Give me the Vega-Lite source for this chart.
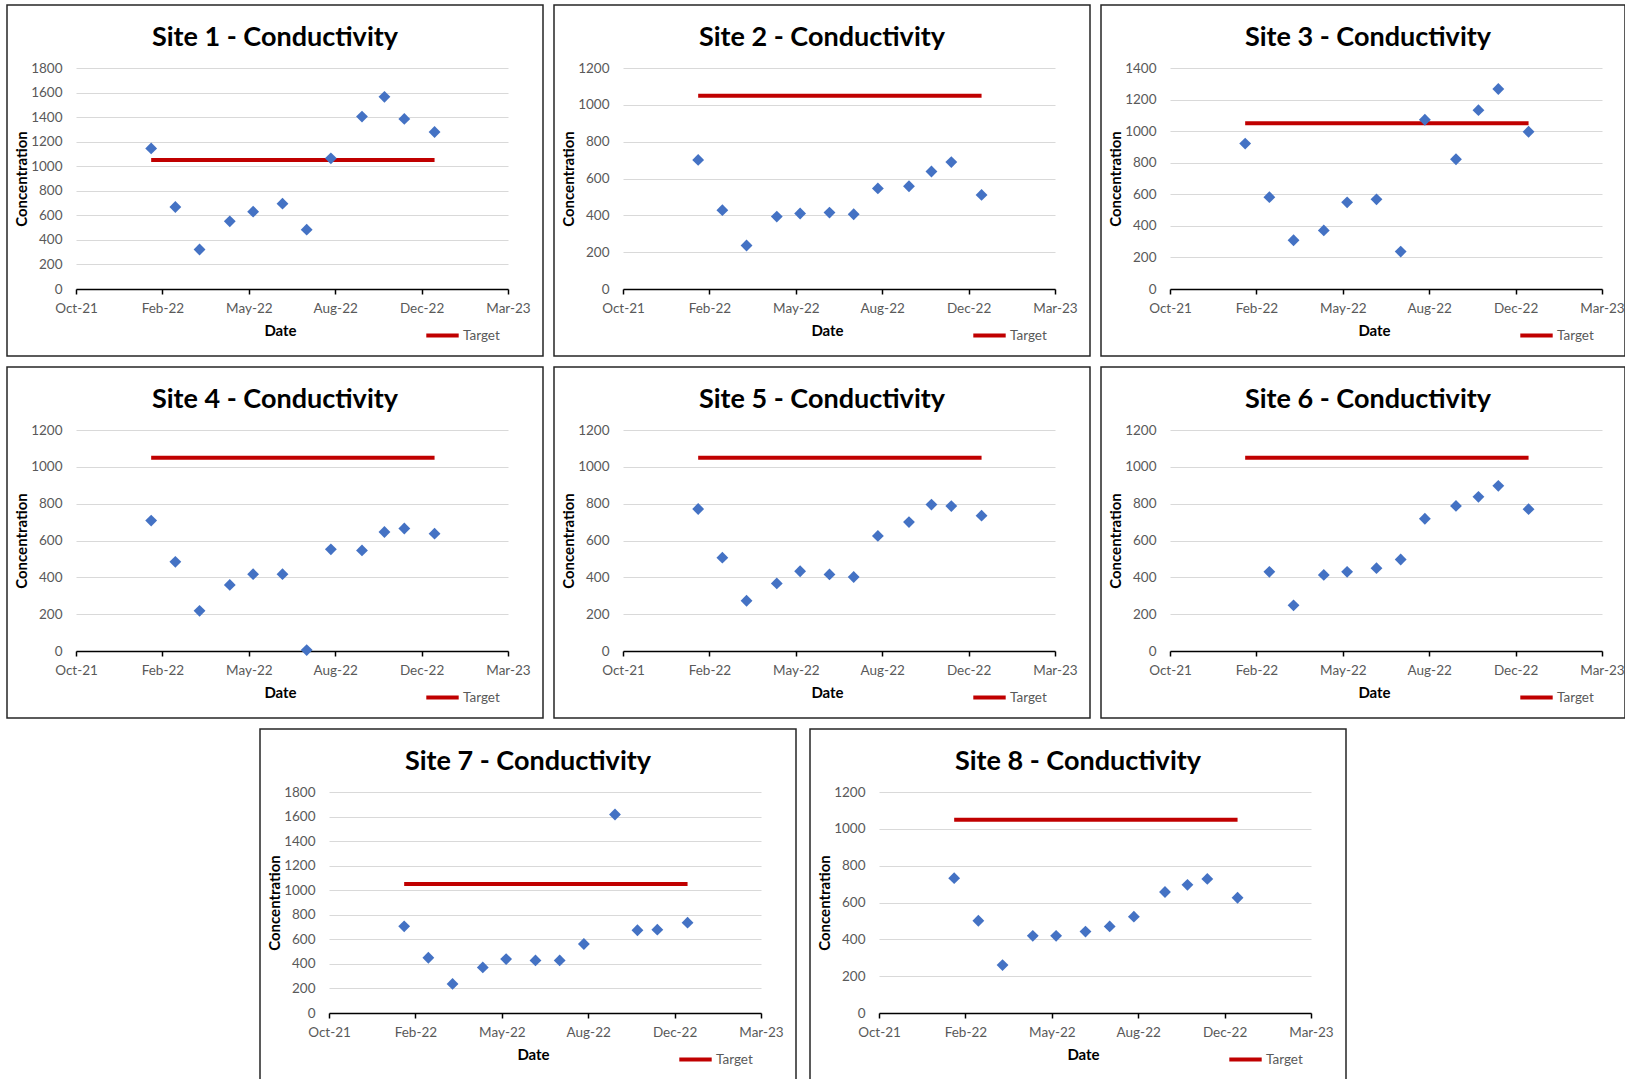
{
  "$schema": "https://vega.github.io/schema/vega-lite/v6.json",
  "background": "white",
  "padding": {"left": 6, "top": 4, "right": 0, "bottom": 0},
  "config": {
    "font": "Lato",
    "view": {"stroke": "#262626", "strokeWidth": 1.5},
    "title": {"font": "Lato", "fontSize": 27, "fontWeight": "bold", "color": "#000000", "anchor": "middle", "frame": "group", "offset": -47, "baseline": "alphabetic"},
    "axis": {"labelFont": "Lato", "titleFont": "Lato", "labelColor": "#595959", "labelFontSize": 13.5, "titleFontSize": 15, "titleFontWeight": "bold", "titleColor": "#000000"},
    "axisX": {"grid": false, "domainColor": "#000000", "domainWidth": 1.5, "tickColor": "#000000", "tickWidth": 1.5, "tickSize": 5, "labelPadding": 7, "titlePadding": 9, "titleX": 273, "labelFlush": false, "labelOverlap": false},
    "axisY": {"offset": 0, "domain": false, "ticks": false, "tickSize": 0, "grid": true, "gridColor": "#D9D9D9", "gridWidth": 1, "labelPadding": -55, "format": "d", "labelOverlap": false, "labelFlush": false, "titleX": 14, "titleBaseline": "middle", "titleAngle": 270},
    "legend": {"symbolType": "stroke", "symbolStrokeWidth": 4, "symbolSize": 1050, "labelFont": "Lato", "labelFontSize": 13.5, "labelColor": "#595959", "labelOffset": 2, "padding": 0}
  },
  "datasets": {
    "obs": [
      {"site": 1, "date": "2022-01-26", "value": 1145}, {"site": 1, "date": "2022-02-23", "value": 668}, {"site": 1, "date": "2022-03-23", "value": 322}, {"site": 1, "date": "2022-04-27", "value": 551}, {"site": 1, "date": "2022-05-24", "value": 630}, {"site": 1, "date": "2022-06-27", "value": 695}, {"site": 1, "date": "2022-07-25", "value": 483}, {"site": 1, "date": "2022-08-22", "value": 1064}, {"site": 1, "date": "2022-09-27", "value": 1404}, {"site": 1, "date": "2022-10-23", "value": 1565}, {"site": 1, "date": "2022-11-15", "value": 1385}, {"site": 1, "date": "2022-12-20", "value": 1279},
      {"site": 2, "date": "2022-01-26", "value": 701}, {"site": 2, "date": "2022-02-23", "value": 428}, {"site": 2, "date": "2022-03-23", "value": 236}, {"site": 2, "date": "2022-04-27", "value": 393}, {"site": 2, "date": "2022-05-24", "value": 410}, {"site": 2, "date": "2022-06-27", "value": 415}, {"site": 2, "date": "2022-07-25", "value": 406}, {"site": 2, "date": "2022-08-22", "value": 546}, {"site": 2, "date": "2022-09-27", "value": 558}, {"site": 2, "date": "2022-10-23", "value": 638}, {"site": 2, "date": "2022-11-15", "value": 689}, {"site": 2, "date": "2022-12-20", "value": 511},
      {"site": 3, "date": "2022-01-26", "value": 921}, {"site": 3, "date": "2022-02-23", "value": 582}, {"site": 3, "date": "2022-03-23", "value": 309}, {"site": 3, "date": "2022-04-27", "value": 371}, {"site": 3, "date": "2022-05-24", "value": 549}, {"site": 3, "date": "2022-06-27", "value": 568}, {"site": 3, "date": "2022-07-25", "value": 237}, {"site": 3, "date": "2022-08-22", "value": 1072}, {"site": 3, "date": "2022-09-27", "value": 822}, {"site": 3, "date": "2022-10-23", "value": 1133}, {"site": 3, "date": "2022-11-15", "value": 1267}, {"site": 3, "date": "2022-12-20", "value": 996},
      {"site": 4, "date": "2022-01-26", "value": 708}, {"site": 4, "date": "2022-02-23", "value": 484}, {"site": 4, "date": "2022-03-23", "value": 218}, {"site": 4, "date": "2022-04-27", "value": 359}, {"site": 4, "date": "2022-05-24", "value": 417}, {"site": 4, "date": "2022-06-27", "value": 417}, {"site": 4, "date": "2022-07-25", "value": 5}, {"site": 4, "date": "2022-08-22", "value": 552}, {"site": 4, "date": "2022-09-27", "value": 546}, {"site": 4, "date": "2022-10-23", "value": 646}, {"site": 4, "date": "2022-11-15", "value": 665}, {"site": 4, "date": "2022-12-20", "value": 637},
      {"site": 5, "date": "2022-01-26", "value": 771}, {"site": 5, "date": "2022-02-23", "value": 507}, {"site": 5, "date": "2022-03-23", "value": 273}, {"site": 5, "date": "2022-04-27", "value": 367}, {"site": 5, "date": "2022-05-24", "value": 433}, {"site": 5, "date": "2022-06-27", "value": 416}, {"site": 5, "date": "2022-07-25", "value": 402}, {"site": 5, "date": "2022-08-22", "value": 625}, {"site": 5, "date": "2022-09-27", "value": 700}, {"site": 5, "date": "2022-10-23", "value": 795}, {"site": 5, "date": "2022-11-15", "value": 787}, {"site": 5, "date": "2022-12-20", "value": 735},
      {"site": 6, "date": "2022-02-23", "value": 430}, {"site": 6, "date": "2022-03-23", "value": 248}, {"site": 6, "date": "2022-04-27", "value": 413}, {"site": 6, "date": "2022-05-24", "value": 430}, {"site": 6, "date": "2022-06-27", "value": 450}, {"site": 6, "date": "2022-07-25", "value": 497}, {"site": 6, "date": "2022-08-22", "value": 718}, {"site": 6, "date": "2022-09-27", "value": 788}, {"site": 6, "date": "2022-10-23", "value": 837}, {"site": 6, "date": "2022-11-15", "value": 897}, {"site": 6, "date": "2022-12-20", "value": 770},
      {"site": 7, "date": "2022-01-26", "value": 706}, {"site": 7, "date": "2022-02-23", "value": 450}, {"site": 7, "date": "2022-03-23", "value": 237}, {"site": 7, "date": "2022-04-27", "value": 371}, {"site": 7, "date": "2022-05-24", "value": 439}, {"site": 7, "date": "2022-06-27", "value": 428}, {"site": 7, "date": "2022-07-25", "value": 428}, {"site": 7, "date": "2022-08-22", "value": 562}, {"site": 7, "date": "2022-09-27", "value": 1617}, {"site": 7, "date": "2022-10-23", "value": 674}, {"site": 7, "date": "2022-11-15", "value": 679}, {"site": 7, "date": "2022-12-20", "value": 736},
      {"site": 8, "date": "2022-01-26", "value": 732}, {"site": 8, "date": "2022-02-23", "value": 501}, {"site": 8, "date": "2022-03-23", "value": 260}, {"site": 8, "date": "2022-04-27", "value": 419}, {"site": 8, "date": "2022-05-24", "value": 419}, {"site": 8, "date": "2022-06-27", "value": 442}, {"site": 8, "date": "2022-07-25", "value": 470}, {"site": 8, "date": "2022-08-22", "value": 523}, {"site": 8, "date": "2022-09-27", "value": 657}, {"site": 8, "date": "2022-10-23", "value": 696}, {"site": 8, "date": "2022-11-15", "value": 728}, {"site": 8, "date": "2022-12-20", "value": 626}
    ],
    "target": [
      {"site": 1, "start": "2022-01-26", "end": "2022-12-20", "target": 1050},
      {"site": 2, "start": "2022-01-26", "end": "2022-12-20", "target": 1050},
      {"site": 3, "start": "2022-01-26", "end": "2022-12-20", "target": 1050},
      {"site": 4, "start": "2022-01-26", "end": "2022-12-20", "target": 1050},
      {"site": 5, "start": "2022-01-26", "end": "2022-12-20", "target": 1050},
      {"site": 6, "start": "2022-01-26", "end": "2022-12-20", "target": 1050},
      {"site": 7, "start": "2022-01-26", "end": "2022-12-20", "target": 1050},
      {"site": 8, "start": "2022-01-26", "end": "2022-12-20", "target": 1050}
    ]
  },
  "spacing": 9,
  "resolve": {"scale": {"x": "independent", "y": "independent", "color": "independent"}, "axis": {"x": "independent", "y": "independent"}, "legend": {"color": "independent"}},
  "vconcat": [
    {
      "spacing": 9,
      "resolve": {"scale": {"x": "independent", "y": "independent", "color": "independent"}, "axis": {"x": "independent", "y": "independent"}, "legend": {"color": "independent"}},
      "hconcat": [
        {
          "width": 536, "height": 351,
          "title": {"text": "Site 1 - Conductivity"},
          "layer": [
            {"data": {"name": "target"}, "transform": [{"filter": "datum.site == 1"}],
             "mark": {"type": "rule", "strokeWidth": 4},
             "encoding": {
               "x": {"field": "start", "type": "temporal", "title": "Date", "scale": {"type": "utc", "domain": [{"year": 2021, "month": 10, "date": 31, "utc": true}, {"year": 2023, "month": 3, "date": 15, "utc": true}], "range": [69, 501], "nice": false}, "axis": {"offset": -67, "format": "%b-%y", "values": [{"year": 2021, "month": 10, "date": 31, "utc": true}, {"year": 2022, "month": 2, "date": 8, "utc": true}, {"year": 2022, "month": 5, "date": 19, "utc": true}, {"year": 2022, "month": 8, "date": 27, "utc": true}, {"year": 2022, "month": 12, "date": 5, "utc": true}, {"year": 2023, "month": 3, "date": 15, "utc": true}]}},
               "x2": {"field": "end"},
               "y": {"field": "target", "type": "quantitative", "title": "Concentration", "scale": {"domain": [0, 1800], "range": [284, 63], "nice": false}, "axis": {"values": [0, 200, 400, 600, 800, 1000, 1200, 1400, 1600, 1800]}},
               "color": {"datum": "Target", "type": "nominal", "scale": {"range": ["#C00000"]}, "legend": {"title": null, "orient": "none", "legendX": 417, "legendY": 312}}
             }},
            {"data": {"name": "obs"}, "transform": [{"filter": "datum.site == 1"}],
             "mark": {"type": "point", "shape": "diamond", "filled": true, "size": 140, "color": "#4472C4", "opacity": 1},
             "encoding": {
               "x": {"field": "date", "type": "temporal", "title": "Date", "scale": {"type": "utc", "domain": [{"year": 2021, "month": 10, "date": 31, "utc": true}, {"year": 2023, "month": 3, "date": 15, "utc": true}], "range": [69, 501], "nice": false}},
               "y": {"field": "value", "type": "quantitative", "title": "Concentration", "scale": {"domain": [0, 1800], "range": [284, 63], "nice": false}, "axis": {"values": [0, 200, 400, 600, 800, 1000, 1200, 1400, 1600, 1800]}}
             }}
          ]
        },
        {
          "width": 536, "height": 351,
          "title": {"text": "Site 2 - Conductivity"},
          "layer": [
            {"data": {"name": "target"}, "transform": [{"filter": "datum.site == 2"}],
             "mark": {"type": "rule", "strokeWidth": 4},
             "encoding": {
               "x": {"field": "start", "type": "temporal", "title": "Date", "scale": {"type": "utc", "domain": [{"year": 2021, "month": 10, "date": 31, "utc": true}, {"year": 2023, "month": 3, "date": 15, "utc": true}], "range": [69, 501], "nice": false}, "axis": {"offset": -67, "format": "%b-%y", "values": [{"year": 2021, "month": 10, "date": 31, "utc": true}, {"year": 2022, "month": 2, "date": 8, "utc": true}, {"year": 2022, "month": 5, "date": 19, "utc": true}, {"year": 2022, "month": 8, "date": 27, "utc": true}, {"year": 2022, "month": 12, "date": 5, "utc": true}, {"year": 2023, "month": 3, "date": 15, "utc": true}]}},
               "x2": {"field": "end"},
               "y": {"field": "target", "type": "quantitative", "title": "Concentration", "scale": {"domain": [0, 1200], "range": [284, 63], "nice": false}, "axis": {"values": [0, 200, 400, 600, 800, 1000, 1200]}},
               "color": {"datum": "Target", "type": "nominal", "scale": {"range": ["#C00000"]}, "legend": {"title": null, "orient": "none", "legendX": 417, "legendY": 312}}
             }},
            {"data": {"name": "obs"}, "transform": [{"filter": "datum.site == 2"}],
             "mark": {"type": "point", "shape": "diamond", "filled": true, "size": 140, "color": "#4472C4", "opacity": 1},
             "encoding": {
               "x": {"field": "date", "type": "temporal", "title": "Date", "scale": {"type": "utc", "domain": [{"year": 2021, "month": 10, "date": 31, "utc": true}, {"year": 2023, "month": 3, "date": 15, "utc": true}], "range": [69, 501], "nice": false}},
               "y": {"field": "value", "type": "quantitative", "title": "Concentration", "scale": {"domain": [0, 1200], "range": [284, 63], "nice": false}, "axis": {"values": [0, 200, 400, 600, 800, 1000, 1200]}}
             }}
          ]
        },
        {
          "width": 524, "height": 351,
          "title": {"text": "Site 3 - Conductivity", "dx": 5},
          "layer": [
            {"data": {"name": "target"}, "transform": [{"filter": "datum.site == 3"}],
             "mark": {"type": "rule", "strokeWidth": 4},
             "encoding": {
               "x": {"field": "start", "type": "temporal", "title": "Date", "scale": {"type": "utc", "domain": [{"year": 2021, "month": 10, "date": 31, "utc": true}, {"year": 2023, "month": 3, "date": 15, "utc": true}], "range": [69, 501], "nice": false}, "axis": {"offset": -67, "format": "%b-%y", "values": [{"year": 2021, "month": 10, "date": 31, "utc": true}, {"year": 2022, "month": 2, "date": 8, "utc": true}, {"year": 2022, "month": 5, "date": 19, "utc": true}, {"year": 2022, "month": 8, "date": 27, "utc": true}, {"year": 2022, "month": 12, "date": 5, "utc": true}, {"year": 2023, "month": 3, "date": 15, "utc": true}]}},
               "x2": {"field": "end"},
               "y": {"field": "target", "type": "quantitative", "title": "Concentration", "scale": {"domain": [0, 1400], "range": [284, 63], "nice": false}, "axis": {"values": [0, 200, 400, 600, 800, 1000, 1200, 1400]}},
               "color": {"datum": "Target", "type": "nominal", "scale": {"range": ["#C00000"]}, "legend": {"title": null, "orient": "none", "legendX": 417, "legendY": 312}}
             }},
            {"data": {"name": "obs"}, "transform": [{"filter": "datum.site == 3"}],
             "mark": {"type": "point", "shape": "diamond", "filled": true, "size": 140, "color": "#4472C4", "opacity": 1},
             "encoding": {
               "x": {"field": "date", "type": "temporal", "title": "Date", "scale": {"type": "utc", "domain": [{"year": 2021, "month": 10, "date": 31, "utc": true}, {"year": 2023, "month": 3, "date": 15, "utc": true}], "range": [69, 501], "nice": false}},
               "y": {"field": "value", "type": "quantitative", "title": "Concentration", "scale": {"domain": [0, 1400], "range": [284, 63], "nice": false}, "axis": {"values": [0, 200, 400, 600, 800, 1000, 1200, 1400]}}
             }}
          ]
        }
      ]
    },
    {
      "spacing": 9,
      "resolve": {"scale": {"x": "independent", "y": "independent", "color": "independent"}, "axis": {"x": "independent", "y": "independent"}, "legend": {"color": "independent"}},
      "hconcat": [
        {
          "width": 536, "height": 351,
          "title": {"text": "Site 4 - Conductivity"},
          "layer": [
            {"data": {"name": "target"}, "transform": [{"filter": "datum.site == 4"}],
             "mark": {"type": "rule", "strokeWidth": 4},
             "encoding": {
               "x": {"field": "start", "type": "temporal", "title": "Date", "scale": {"type": "utc", "domain": [{"year": 2021, "month": 10, "date": 31, "utc": true}, {"year": 2023, "month": 3, "date": 15, "utc": true}], "range": [69, 501], "nice": false}, "axis": {"offset": -67, "format": "%b-%y", "values": [{"year": 2021, "month": 10, "date": 31, "utc": true}, {"year": 2022, "month": 2, "date": 8, "utc": true}, {"year": 2022, "month": 5, "date": 19, "utc": true}, {"year": 2022, "month": 8, "date": 27, "utc": true}, {"year": 2022, "month": 12, "date": 5, "utc": true}, {"year": 2023, "month": 3, "date": 15, "utc": true}]}},
               "x2": {"field": "end"},
               "y": {"field": "target", "type": "quantitative", "title": "Concentration", "scale": {"domain": [0, 1200], "range": [284, 63], "nice": false}, "axis": {"values": [0, 200, 400, 600, 800, 1000, 1200]}},
               "color": {"datum": "Target", "type": "nominal", "scale": {"range": ["#C00000"]}, "legend": {"title": null, "orient": "none", "legendX": 417, "legendY": 312}}
             }},
            {"data": {"name": "obs"}, "transform": [{"filter": "datum.site == 4"}],
             "mark": {"type": "point", "shape": "diamond", "filled": true, "size": 140, "color": "#4472C4", "opacity": 1},
             "encoding": {
               "x": {"field": "date", "type": "temporal", "title": "Date", "scale": {"type": "utc", "domain": [{"year": 2021, "month": 10, "date": 31, "utc": true}, {"year": 2023, "month": 3, "date": 15, "utc": true}], "range": [69, 501], "nice": false}},
               "y": {"field": "value", "type": "quantitative", "title": "Concentration", "scale": {"domain": [0, 1200], "range": [284, 63], "nice": false}, "axis": {"values": [0, 200, 400, 600, 800, 1000, 1200]}}
             }}
          ]
        },
        {
          "width": 536, "height": 351,
          "title": {"text": "Site 5 - Conductivity"},
          "layer": [
            {"data": {"name": "target"}, "transform": [{"filter": "datum.site == 5"}],
             "mark": {"type": "rule", "strokeWidth": 4},
             "encoding": {
               "x": {"field": "start", "type": "temporal", "title": "Date", "scale": {"type": "utc", "domain": [{"year": 2021, "month": 10, "date": 31, "utc": true}, {"year": 2023, "month": 3, "date": 15, "utc": true}], "range": [69, 501], "nice": false}, "axis": {"offset": -67, "format": "%b-%y", "values": [{"year": 2021, "month": 10, "date": 31, "utc": true}, {"year": 2022, "month": 2, "date": 8, "utc": true}, {"year": 2022, "month": 5, "date": 19, "utc": true}, {"year": 2022, "month": 8, "date": 27, "utc": true}, {"year": 2022, "month": 12, "date": 5, "utc": true}, {"year": 2023, "month": 3, "date": 15, "utc": true}]}},
               "x2": {"field": "end"},
               "y": {"field": "target", "type": "quantitative", "title": "Concentration", "scale": {"domain": [0, 1200], "range": [284, 63], "nice": false}, "axis": {"values": [0, 200, 400, 600, 800, 1000, 1200]}},
               "color": {"datum": "Target", "type": "nominal", "scale": {"range": ["#C00000"]}, "legend": {"title": null, "orient": "none", "legendX": 417, "legendY": 312}}
             }},
            {"data": {"name": "obs"}, "transform": [{"filter": "datum.site == 5"}],
             "mark": {"type": "point", "shape": "diamond", "filled": true, "size": 140, "color": "#4472C4", "opacity": 1},
             "encoding": {
               "x": {"field": "date", "type": "temporal", "title": "Date", "scale": {"type": "utc", "domain": [{"year": 2021, "month": 10, "date": 31, "utc": true}, {"year": 2023, "month": 3, "date": 15, "utc": true}], "range": [69, 501], "nice": false}},
               "y": {"field": "value", "type": "quantitative", "title": "Concentration", "scale": {"domain": [0, 1200], "range": [284, 63], "nice": false}, "axis": {"values": [0, 200, 400, 600, 800, 1000, 1200]}}
             }}
          ]
        },
        {
          "width": 524, "height": 351,
          "title": {"text": "Site 6 - Conductivity", "dx": 5},
          "layer": [
            {"data": {"name": "target"}, "transform": [{"filter": "datum.site == 6"}],
             "mark": {"type": "rule", "strokeWidth": 4},
             "encoding": {
               "x": {"field": "start", "type": "temporal", "title": "Date", "scale": {"type": "utc", "domain": [{"year": 2021, "month": 10, "date": 31, "utc": true}, {"year": 2023, "month": 3, "date": 15, "utc": true}], "range": [69, 501], "nice": false}, "axis": {"offset": -67, "format": "%b-%y", "values": [{"year": 2021, "month": 10, "date": 31, "utc": true}, {"year": 2022, "month": 2, "date": 8, "utc": true}, {"year": 2022, "month": 5, "date": 19, "utc": true}, {"year": 2022, "month": 8, "date": 27, "utc": true}, {"year": 2022, "month": 12, "date": 5, "utc": true}, {"year": 2023, "month": 3, "date": 15, "utc": true}]}},
               "x2": {"field": "end"},
               "y": {"field": "target", "type": "quantitative", "title": "Concentration", "scale": {"domain": [0, 1200], "range": [284, 63], "nice": false}, "axis": {"values": [0, 200, 400, 600, 800, 1000, 1200]}},
               "color": {"datum": "Target", "type": "nominal", "scale": {"range": ["#C00000"]}, "legend": {"title": null, "orient": "none", "legendX": 417, "legendY": 312}}
             }},
            {"data": {"name": "obs"}, "transform": [{"filter": "datum.site == 6"}],
             "mark": {"type": "point", "shape": "diamond", "filled": true, "size": 140, "color": "#4472C4", "opacity": 1},
             "encoding": {
               "x": {"field": "date", "type": "temporal", "title": "Date", "scale": {"type": "utc", "domain": [{"year": 2021, "month": 10, "date": 31, "utc": true}, {"year": 2023, "month": 3, "date": 15, "utc": true}], "range": [69, 501], "nice": false}},
               "y": {"field": "value", "type": "quantitative", "title": "Concentration", "scale": {"domain": [0, 1200], "range": [284, 63], "nice": false}, "axis": {"values": [0, 200, 400, 600, 800, 1000, 1200]}}
             }}
          ]
        }
      ]
    },
    {
      "spacing": 12,
      "resolve": {"scale": {"x": "independent", "y": "independent", "color": "independent"}, "axis": {"x": "independent", "y": "independent"}, "legend": {"color": "independent"}},
      "hconcat": [
        {"width": 240, "height": 10, "view": {"stroke": null}, "data": {"values": []}, "mark": "point"},
        {
          "width": 536, "height": 356,
          "title": {"text": "Site 7 - Conductivity"},
          "layer": [
            {"data": {"name": "target"}, "transform": [{"filter": "datum.site == 7"}],
             "mark": {"type": "rule", "strokeWidth": 4},
             "encoding": {
               "x": {"field": "start", "type": "temporal", "title": "Date", "scale": {"type": "utc", "domain": [{"year": 2021, "month": 10, "date": 31, "utc": true}, {"year": 2023, "month": 3, "date": 15, "utc": true}], "range": [69, 501], "nice": false}, "axis": {"offset": -72, "format": "%b-%y", "values": [{"year": 2021, "month": 10, "date": 31, "utc": true}, {"year": 2022, "month": 2, "date": 8, "utc": true}, {"year": 2022, "month": 5, "date": 19, "utc": true}, {"year": 2022, "month": 8, "date": 27, "utc": true}, {"year": 2022, "month": 12, "date": 5, "utc": true}, {"year": 2023, "month": 3, "date": 15, "utc": true}]}},
               "x2": {"field": "end"},
               "y": {"field": "target", "type": "quantitative", "title": "Concentration", "scale": {"domain": [0, 1800], "range": [284, 63], "nice": false}, "axis": {"values": [0, 200, 400, 600, 800, 1000, 1200, 1400, 1600, 1800]}},
               "color": {"datum": "Target", "type": "nominal", "scale": {"range": ["#C00000"]}, "legend": {"title": null, "orient": "none", "legendX": 417, "legendY": 312}}
             }},
            {"data": {"name": "obs"}, "transform": [{"filter": "datum.site == 7"}],
             "mark": {"type": "point", "shape": "diamond", "filled": true, "size": 140, "color": "#4472C4", "opacity": 1},
             "encoding": {
               "x": {"field": "date", "type": "temporal", "title": "Date", "scale": {"type": "utc", "domain": [{"year": 2021, "month": 10, "date": 31, "utc": true}, {"year": 2023, "month": 3, "date": 15, "utc": true}], "range": [69, 501], "nice": false}},
               "y": {"field": "value", "type": "quantitative", "title": "Concentration", "scale": {"domain": [0, 1800], "range": [284, 63], "nice": false}, "axis": {"values": [0, 200, 400, 600, 800, 1000, 1200, 1400, 1600, 1800]}}
             }}
          ]
        },
        {
          "width": 536, "height": 356,
          "title": {"text": "Site 8 - Conductivity"},
          "layer": [
            {"data": {"name": "target"}, "transform": [{"filter": "datum.site == 8"}],
             "mark": {"type": "rule", "strokeWidth": 4},
             "encoding": {
               "x": {"field": "start", "type": "temporal", "title": "Date", "scale": {"type": "utc", "domain": [{"year": 2021, "month": 10, "date": 31, "utc": true}, {"year": 2023, "month": 3, "date": 15, "utc": true}], "range": [69, 501], "nice": false}, "axis": {"offset": -72, "format": "%b-%y", "values": [{"year": 2021, "month": 10, "date": 31, "utc": true}, {"year": 2022, "month": 2, "date": 8, "utc": true}, {"year": 2022, "month": 5, "date": 19, "utc": true}, {"year": 2022, "month": 8, "date": 27, "utc": true}, {"year": 2022, "month": 12, "date": 5, "utc": true}, {"year": 2023, "month": 3, "date": 15, "utc": true}]}},
               "x2": {"field": "end"},
               "y": {"field": "target", "type": "quantitative", "title": "Concentration", "scale": {"domain": [0, 1200], "range": [284, 63], "nice": false}, "axis": {"values": [0, 200, 400, 600, 800, 1000, 1200]}},
               "color": {"datum": "Target", "type": "nominal", "scale": {"range": ["#C00000"]}, "legend": {"title": null, "orient": "none", "legendX": 417, "legendY": 312}}
             }},
            {"data": {"name": "obs"}, "transform": [{"filter": "datum.site == 8"}],
             "mark": {"type": "point", "shape": "diamond", "filled": true, "size": 140, "color": "#4472C4", "opacity": 1},
             "encoding": {
               "x": {"field": "date", "type": "temporal", "title": "Date", "scale": {"type": "utc", "domain": [{"year": 2021, "month": 10, "date": 31, "utc": true}, {"year": 2023, "month": 3, "date": 15, "utc": true}], "range": [69, 501], "nice": false}},
               "y": {"field": "value", "type": "quantitative", "title": "Concentration", "scale": {"domain": [0, 1200], "range": [284, 63], "nice": false}, "axis": {"values": [0, 200, 400, 600, 800, 1000, 1200]}}
             }}
          ]
        }
      ]
    }
  ]
}
